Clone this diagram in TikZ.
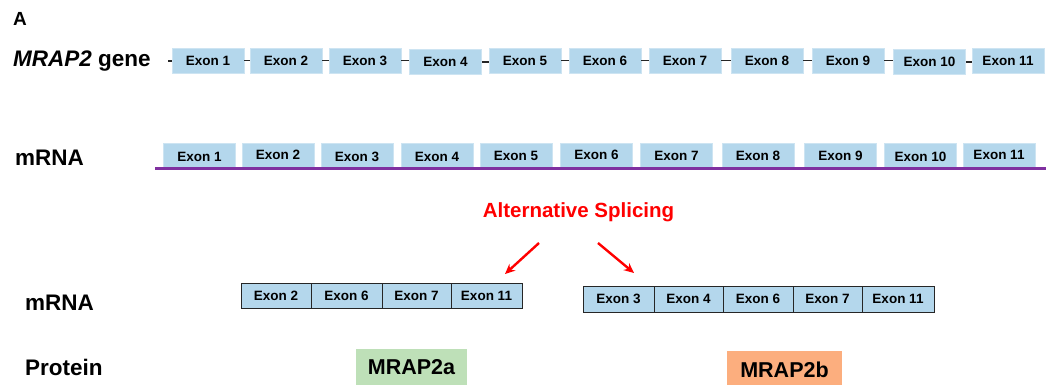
\documentclass[tikz,border=0pt]{standalone}
\usepackage{fontspec}
\setmainfont{Liberation Sans}
\usetikzlibrary{arrows.meta}
\definecolor{exonblue}{RGB}{180,215,236}
\definecolor{exonedge}{RGB}{205,228,242}
\definecolor{mrnapurple}{RGB}{128,48,160}
\definecolor{protgreen}{RGB}{190,224,184}
\definecolor{protorange}{RGB}{252,174,126}
\begin{document}
\begin{tikzpicture}[x=1pt,y=-1pt,
  exonfont/.style={font=\bfseries\fontsize{13.5}{13.5}\selectfont, text height=9.6pt, text depth=0pt},
  exonbox/.style={exonfont, fill=exonblue, draw=exonedge, line width=0.8pt, minimum width=72pt, minimum height=25pt, inner sep=0pt},
  cellbox/.style={exonfont, fill=exonblue, draw=black!85, line width=0.9pt, minimum height=25pt, inner sep=0pt},
  rowlabel/.style={anchor=base west, inner sep=0pt, font=\bfseries\fontsize{22.5}{22.5}\selectfont},
  protbox/.style={font=\bfseries\fontsize{21.5}{21.5}\selectfont, text height=15pt, text depth=0pt, inner sep=0pt},
  backbone/.style={line width=1.3pt, black!85},
  splitarrow/.style={red, line width=2.4pt, -{Stealth[length=10pt,width=9pt]}}
]
\useasboundingbox (0,0) rectangle (1050,385);

% labels
\node[anchor=base west, inner sep=0pt, font=\bfseries\fontsize{19}{19}\selectfont] (lblA) at (13,25.5) {A};
\node[rowlabel] (lblgene) at (13,67) {\textit{MRAP2} gene};
\node[rowlabel] (lblmrna1) at (15,165) {mRNA};
\node[rowlabel] (lblmrna2) at (25,310.5) {mRNA};
\node[rowlabel] (lblprot) at (25,375.5) {Protein};

% gene row
\foreach \i/\cx/\dy in {1/208/0, 2/286/0, 3/365/0, 4/445.5/1.5, 5/525/0, 6/605/0, 7/685/0, 8/767/0, 9/848/0, 10/929.5/1.5, 11/1008/0}
  \node[exonbox] (g\i) at (\cx,60.5+\dy) {Exon \i};
\coordinate (gtick) at (168,61);
\draw[backbone] (gtick) -- (gtick -| g1.west);
\foreach \i/\j in {1/2,2/3,3/4,4/5,5/6,6/7,7/8,8/9,9/10,10/11}
  \draw[backbone] (g\i.east) -- (g\i.east -| g\j.west);

% mRNA row
\foreach \i/\cx/\dy in {1/199.5/1.5, 2/278/-0.5, 3/357/1.5, 4/437/1.5, 5/516/1, 6/596.5/-0.5, 7/676.5/0.5, 8/758/1, 9/840.5/0.5, 10/920.5/1.5, 11/999/-0.5}
  \node[exonbox, minimum height=24pt] (m\i) at (\cx,155) {\raisebox{-\dy pt}{Exon \i}};
\coordinate (mstart) at (155,169);
\coordinate (mend) at (1046,169);
\draw[mrnapurple, line width=3pt] (mstart) -- (mend);

% alternative splicing
\node[anchor=base, inner sep=0pt, text=red, font=\bfseries\fontsize{20.5}{20.5}\selectfont] (alt) at (578.5,218) {Alternative Splicing};
\coordinate (la1) at (539,243);
\coordinate (la2) at (505,274);
\coordinate (ra1) at (598,243);
\coordinate (ra2) at (634,273);
\draw[splitarrow] (la1) -- (la2);
\draw[splitarrow] (ra1) -- (ra2);

% spliced mRNA a
\node[cellbox, minimum width=70pt] (a1) at (276,295.5) {Exon 2};
\node[cellbox, minimum width=71pt] (a2) at (346.5,295.5) {Exon 6};
\node[cellbox, minimum width=69pt] (a3) at (416.5,295.5) {Exon 7};
\node[cellbox, minimum width=71pt] (a4) at (486.5,295.5) {Exon 11};

% spliced mRNA b
\node[cellbox, minimum width=71pt, minimum height=26pt] (b1) at (618.5,299) {Exon 3};
\node[cellbox, minimum width=69pt, minimum height=26pt] (b2) at (688.5,299) {Exon 4};
\node[cellbox, minimum width=70pt, minimum height=26pt] (b3) at (758,299) {Exon 6};
\node[cellbox, minimum width=69pt, minimum height=26pt] (b4) at (827.5,299) {Exon 7};
\node[cellbox, minimum width=72pt, minimum height=26pt] (b5) at (898,299) {Exon 11};

% proteins
\node[protbox, fill=protgreen, minimum width=111pt, minimum height=37pt] (pa) at (411.5,367) {MRAP2a};
\node[protbox, fill=protorange, minimum width=115pt, minimum height=35pt] (pb) at (784.5,368) {\raisebox{-2pt}{MRAP2b}};
\end{tikzpicture}
\end{document}
